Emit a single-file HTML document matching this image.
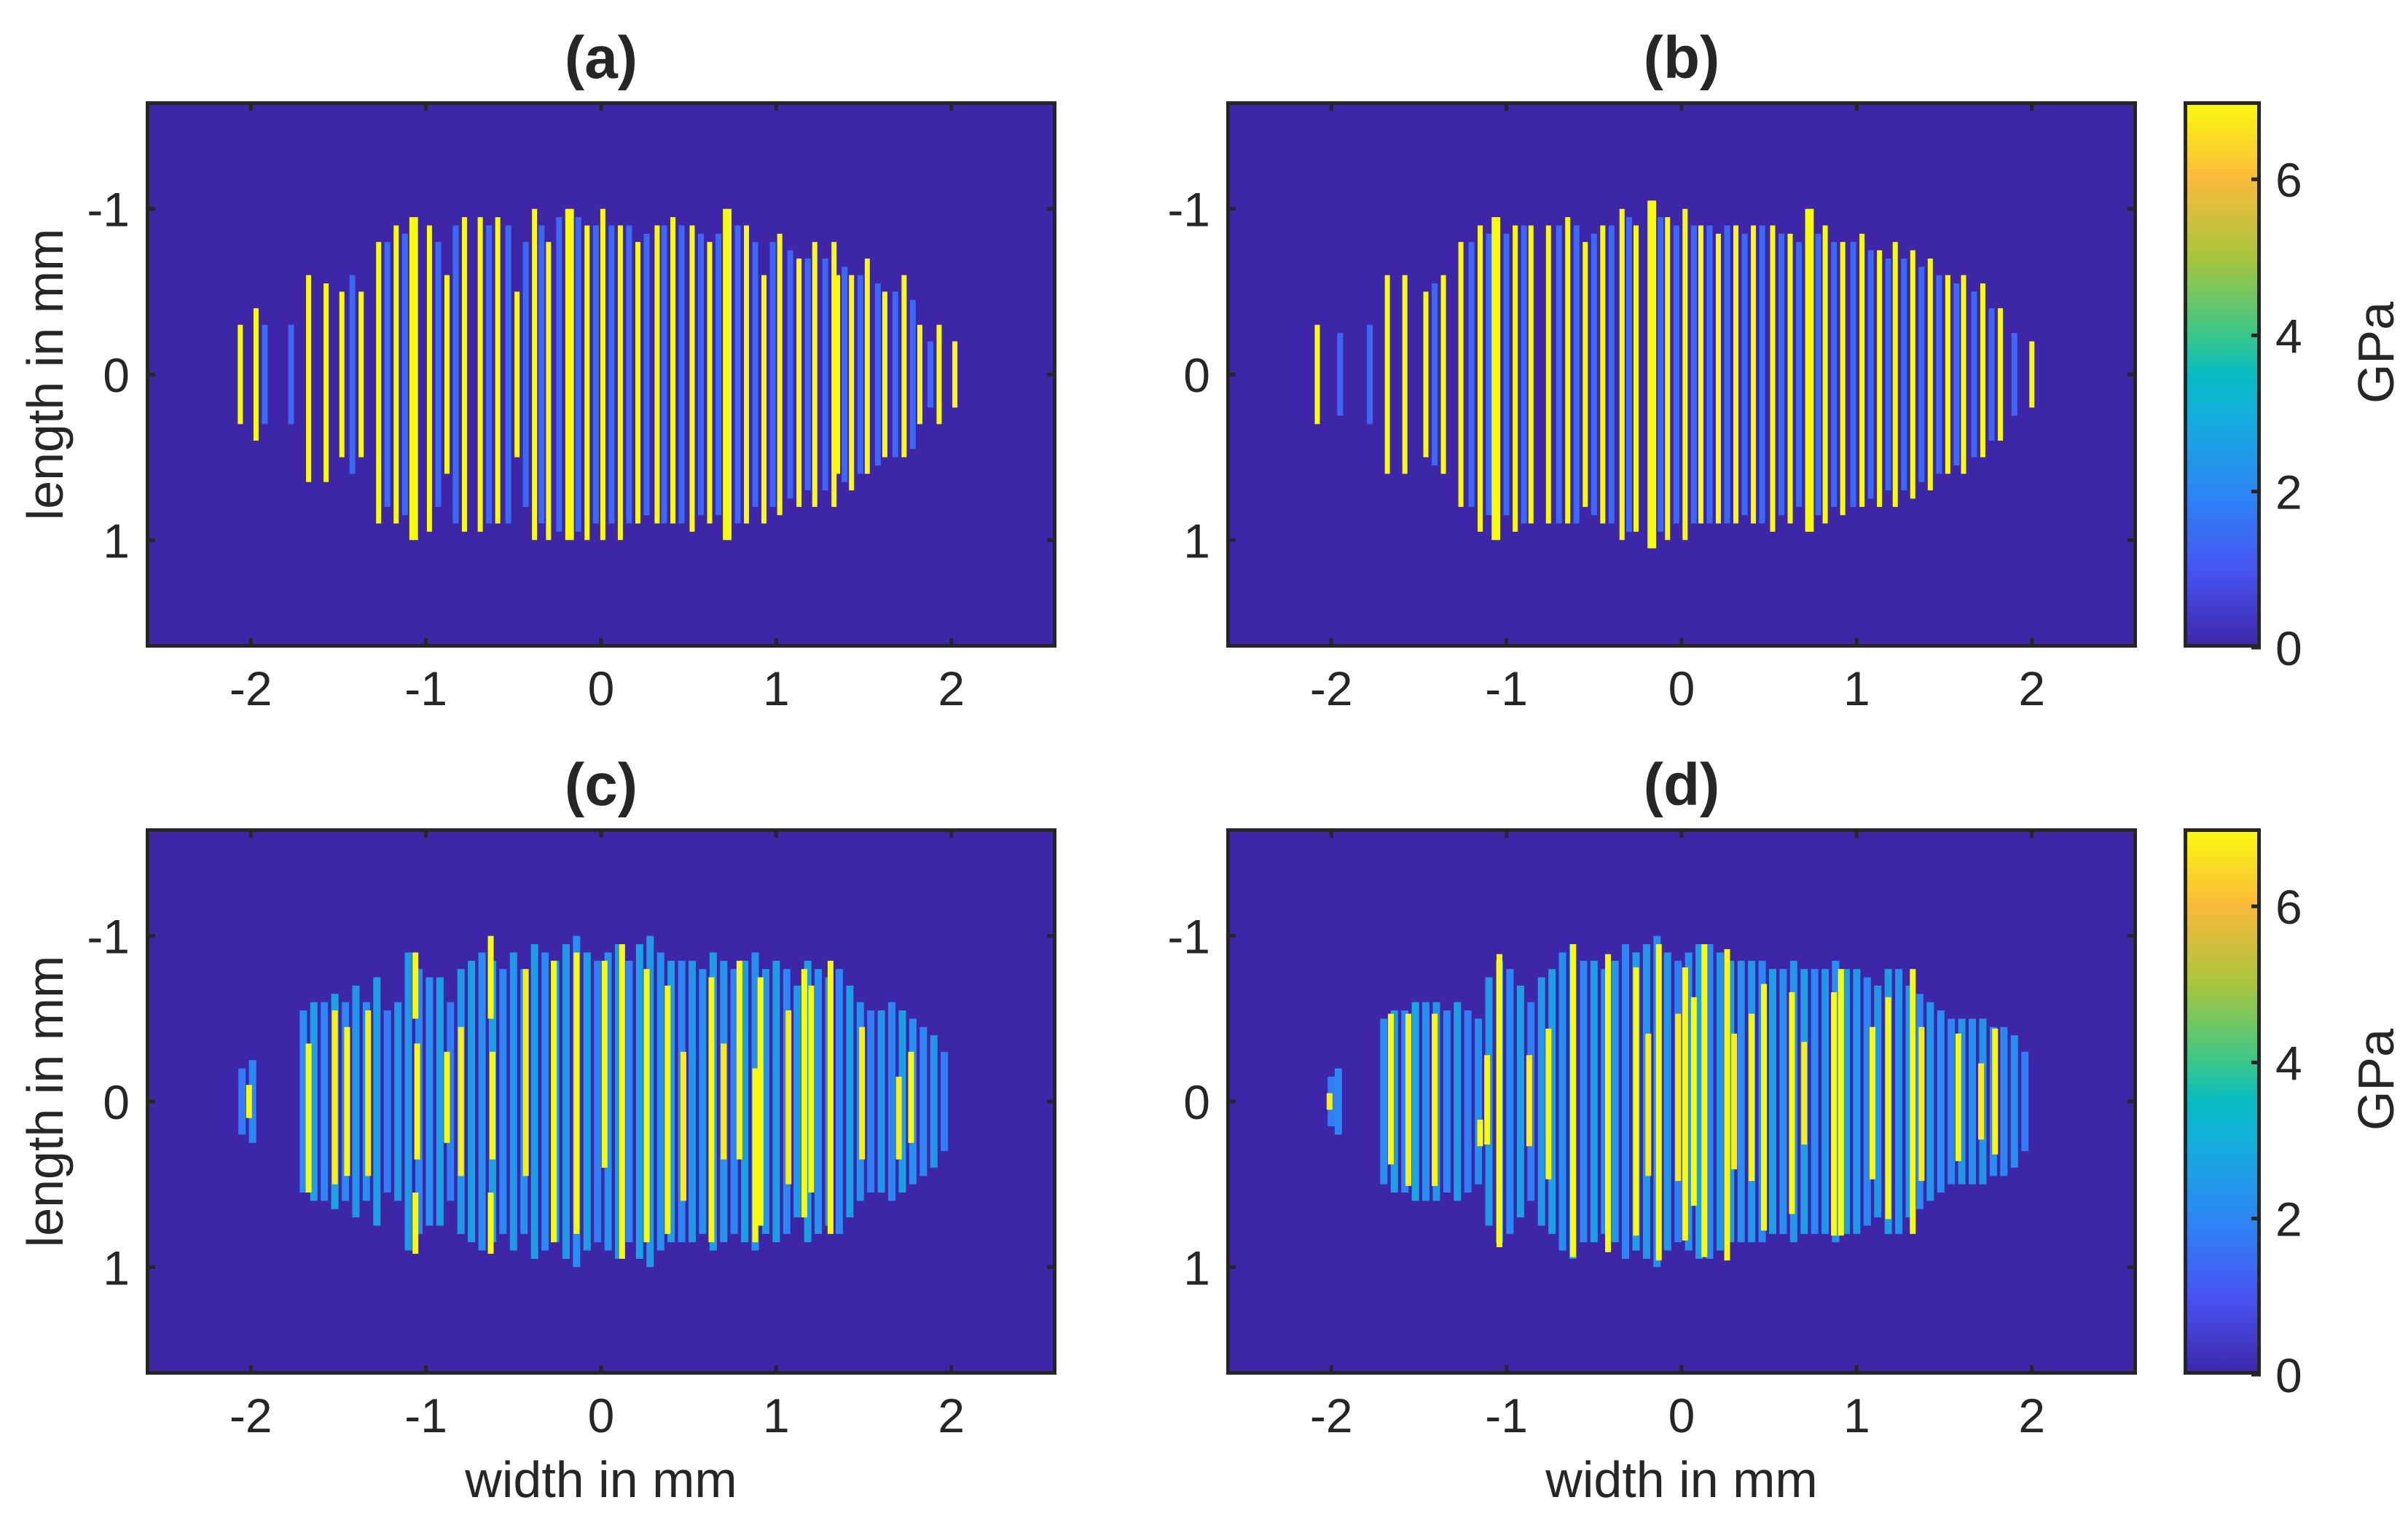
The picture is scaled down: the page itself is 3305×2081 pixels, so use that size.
<!DOCTYPE html>
<html><head><meta charset="utf-8">
<style>
html,body{margin:0;padding:0;background:#fff;}
svg{display:block;font-family:"Liberation Sans",Arial,sans-serif;}
</style></head>
<body>
<svg id="fig" width="3305" height="2081" viewBox="0 0 3305 2081" xmlns="http://www.w3.org/2000/svg">
<defs>
<linearGradient id="parula" x1="0" y1="1" x2="0" y2="0">
<stop offset="0" stop-color="#3e26a8"/><stop offset="0.14" stop-color="#4853f3"/>
<stop offset="0.28" stop-color="#2d85f5"/><stop offset="0.43" stop-color="#13b0db"/>
<stop offset="0.5" stop-color="#06bbc1"/><stop offset="0.57" stop-color="#38c78c"/>
<stop offset="0.71" stop-color="#a5c53e"/><stop offset="0.86" stop-color="#fbba3a"/>
<stop offset="1" stop-color="#f9fb0e"/>
</linearGradient>
</defs>
</svg>
<script>
// ---- data (mm, GPa) ----
const xTicks = [-2,-1,0,1,2];
const yTicks = [-1,0,1];
const cbTicks = [0,2,4,6];
const panelTitles = ["(a)","(b)","(c)","(d)"];

// panel a: yellow stripes
const aX   = [-2.06,-1.97,-1.67,-1.57,-1.48,-1.37,-1.27,-1.17,-1.08,-1.06,-0.98,-0.88,-0.78,-0.69,-0.59,-0.48,-0.38,-0.30,-0.19,-0.17,-0.08,0.01,0.11,0.21,0.32,0.41,0.52,0.62,0.71,0.73,0.83,0.93,1.02,1.13,1.22,1.33,1.35,1.43,1.52,1.62,1.73,1.82,1.93,2.02];
const aTop = [-0.30,-0.40,-0.60,-0.55,-0.50,-0.50,-0.80,-0.90,-0.95,-0.95,-0.90,-0.60,-0.95,-0.95,-0.95,-0.50,-1.00,-0.80,-1.00,-1.00,-0.90,-1.00,-0.90,-0.80,-0.90,-0.95,-0.90,-0.80,-1.00,-1.00,-0.90,-0.60,-0.85,-0.70,-0.80,-0.80,-0.60,-0.60,-0.70,-0.50,-0.60,-0.30,-0.30,-0.20];
const aBot = [0.30,0.40,0.65,0.65,0.50,0.50,0.90,0.90,1.00,1.00,0.95,0.60,0.95,0.95,0.90,0.50,1.00,1.00,1.00,1.00,1.00,1.00,1.00,0.90,0.90,0.90,0.95,0.90,1.00,1.00,0.90,0.90,0.85,0.80,0.80,0.80,0.60,0.70,0.60,0.50,0.50,0.30,0.30,0.20];
// panel a: speckle columns
const aSpX   = [-1.92,-1.77,-1.42,-1.22,-1.12,-0.93,-0.83,-0.64,-0.53,-0.43,-0.34,-0.24,-0.13,-0.03,0.06,0.16,0.26,0.36,0.46,0.57,0.67,0.78,0.88,0.98,1.08,1.18,1.28,1.39,1.48,1.58,1.68,1.78,1.88];
const aSpExt = [0.3,0.3,0.6,0.8,0.85,0.8,0.9,0.9,0.9,0.8,0.9,0.95,0.95,0.9,0.9,0.9,0.85,0.9,0.9,0.85,0.85,0.9,0.8,0.8,0.75,0.7,0.7,0.65,0.6,0.55,0.5,0.45,0.2];

// panel b: yellow stripes
const bX   = [-2.08,-1.68,-1.58,-1.46,-1.36,-1.26,-1.15,-1.07,-1.05,-0.95,-0.86,-0.76,-0.65,-0.55,-0.45,-0.34,-0.26,-0.18,-0.16,-0.08,0.02,0.11,0.21,0.31,0.41,0.52,0.62,0.72,0.74,0.82,0.92,1.03,1.13,1.22,1.32,1.42,1.52,1.61,1.72,1.82,2.00];
const bTop = [-0.3,-0.6,-0.6,-0.5,-0.6,-0.8,-0.9,-0.95,-0.95,-0.9,-0.9,-0.9,-0.95,-0.8,-0.9,-1.0,-0.9,-1.05,-1.05,-0.95,-1.0,-0.9,-0.85,-0.9,-0.9,-0.9,-0.85,-1.0,-1.0,-0.9,-0.8,-0.85,-0.75,-0.8,-0.75,-0.7,-0.6,-0.6,-0.55,-0.4,-0.2];
const bBot = [0.3,0.6,0.6,0.5,0.6,0.8,0.95,1.0,1.0,0.95,0.9,0.9,0.9,0.8,0.9,1.0,0.95,1.05,1.05,1.0,1.0,0.9,0.9,0.9,0.9,0.95,0.9,0.95,0.95,0.9,0.85,0.8,0.8,0.8,0.75,0.7,0.6,0.6,0.5,0.4,0.2];
const bSpX   = [-1.95,-1.78,-1.41,-1.20,-1.10,-1.00,-0.90,-0.70,-0.60,-0.50,-0.40,-0.30,-0.12,-0.03,0.07,0.16,0.26,0.36,0.46,0.57,0.67,0.78,0.87,0.98,1.08,1.18,1.27,1.37,1.47,1.57,1.67,1.77,1.90];
const bSpExt = [0.25,0.3,0.55,0.8,0.85,0.85,0.9,0.9,0.9,0.85,0.9,0.95,0.95,0.9,0.9,0.9,0.9,0.85,0.9,0.85,0.8,0.85,0.8,0.8,0.75,0.7,0.7,0.65,0.6,0.55,0.5,0.4,0.25];

// panel c: mixed band + yellow segments
const cMixX   = [-2.05,-1.99,-1.70,-1.64,-1.58,-1.52,-1.46,-1.40,-1.34,-1.28,-1.22,-1.16,-1.10,-1.04,-0.98,-0.92,-0.86,-0.80,-0.74,-0.68,-0.62,-0.56,-0.50,-0.44,-0.38,-0.32,-0.26,-0.20,-0.14,-0.08,-0.02,0.04,0.10,0.16,0.22,0.28,0.34,0.40,0.46,0.52,0.58,0.64,0.70,0.76,0.82,0.88,0.94,1.00,1.06,1.12,1.18,1.24,1.30,1.36,1.42,1.48,1.54,1.60,1.66,1.72,1.78,1.84,1.90,1.96];
const cMixExt = [0.2,0.25,0.55,0.6,0.6,0.65,0.6,0.7,0.6,0.75,0.55,0.6,0.9,0.8,0.75,0.75,0.6,0.8,0.85,0.9,0.85,0.8,0.9,0.8,0.95,0.9,0.85,0.95,1.0,0.9,0.85,0.9,0.95,0.85,0.95,1.0,0.9,0.85,0.85,0.85,0.8,0.9,0.85,0.8,0.85,0.9,0.8,0.85,0.8,0.7,0.85,0.8,0.75,0.8,0.7,0.6,0.55,0.55,0.6,0.55,0.5,0.45,0.4,0.3];
const cMixVal = [1.8,2.0,2.2,2.6,2.0,2.8,2.0,2.4,2.2,2.6,1.8,2.4,2.4,2.0,2.2,2.6,1.8,2.4,2.6,2.2,2.6,2.0,2.4,2.2,2.6,2.0,2.6,2.4,2.2,2.6,1.8,2.2,2.4,2.0,2.6,2.4,2.2,2.6,2.0,2.4,2.2,2.6,2.4,2.0,2.6,2.2,2.4,2.6,2.0,2.4,2.6,2.2,2.4,2.0,2.6,2.2,1.8,2.4,2.0,2.6,2.2,2.0,2.4,1.8];
const cX   = [-2.01,-1.67,-1.52,-1.45,-1.33,-1.06,-1.05,-1.06,-0.88,-0.80,-0.63,-0.62,-0.63,-0.43,-0.27,-0.14,0.02,0.12,0.26,0.38,0.47,0.63,0.70,0.79,0.88,0.91,1.07,1.16,1.20,1.31,1.49,1.70,1.77];
const cTop = [-0.10,-0.35,-0.55,-0.45,-0.55,-0.90,-0.35,0.55,-0.30,-0.45,-1.00,-0.30,0.55,-0.80,-0.85,-0.90,-0.85,-0.95,-0.80,-0.70,-0.30,-0.75,-0.35,-0.85,-0.20,-0.75,-0.55,-0.80,-0.70,-0.85,-0.45,-0.15,-0.30];
const cBot = [0.10,0.55,0.50,0.45,0.45,-0.50,0.35,0.92,0.25,0.45,-0.50,0.35,0.92,0.45,0.85,0.80,0.40,0.95,0.85,0.80,0.60,0.85,0.35,0.35,0.85,0.75,0.50,0.70,0.55,0.80,0.35,0.35,0.25];
const cVal = [7,7,6.8,7,6.8,7,7,7,7,6.8,7,7,7,6.8,7,7,7,7,7,7,6.8,7,6.8,7,7,7,6.8,7,7,7,6.8,6.8,7];

// panel d
const dMixX   = [-2.00,-1.96,-1.70,-1.64,-1.58,-1.52,-1.46,-1.40,-1.34,-1.28,-1.22,-1.16,-1.10,-1.04,-0.98,-0.92,-0.86,-0.80,-0.74,-0.68,-0.62,-0.56,-0.50,-0.44,-0.38,-0.32,-0.26,-0.20,-0.14,-0.08,-0.02,0.04,0.10,0.16,0.22,0.28,0.34,0.40,0.46,0.52,0.58,0.64,0.70,0.76,0.82,0.88,0.94,1.00,1.06,1.12,1.18,1.24,1.30,1.36,1.42,1.48,1.54,1.60,1.66,1.72,1.78,1.84,1.90,1.96];
const dMixExt = [0.15,0.2,0.5,0.55,0.55,0.6,0.6,0.6,0.55,0.6,0.55,0.5,0.75,0.85,0.8,0.7,0.6,0.75,0.8,0.9,0.95,0.85,0.85,0.8,0.85,0.95,0.9,0.95,1.0,0.9,0.85,0.9,0.95,0.95,0.9,0.85,0.85,0.85,0.85,0.8,0.8,0.85,0.8,0.8,0.8,0.85,0.8,0.8,0.75,0.7,0.8,0.8,0.7,0.65,0.6,0.55,0.5,0.5,0.5,0.5,0.45,0.45,0.4,0.3];
const dMixVal = [1.8,2.0,2.2,2.6,2.0,2.8,2.2,2.4,2.0,2.6,1.8,2.2,2.4,2.2,2.0,2.6,1.8,2.4,2.6,2.2,2.4,2.0,2.6,2.2,2.4,2.0,2.6,2.4,2.2,2.4,1.8,2.2,2.6,2.0,2.4,2.6,2.2,2.4,2.0,2.6,2.2,2.4,2.6,2.0,2.4,2.2,2.6,2.4,2.0,2.4,2.6,2.2,2.4,2.0,2.4,2.2,2.0,2.4,2.2,2.4,2.2,2.0,2.2,1.8];
const dX   = [-2.01,-1.66,-1.56,-1.41,-1.15,-1.11,-1.04,-0.87,-0.76,-0.62,-0.42,-0.26,-0.19,-0.13,-0.02,0.02,0.07,0.13,0.26,0.30,0.40,0.47,0.63,0.70,0.87,0.91,1.09,1.18,1.32,1.37,1.58,1.71,1.79];
const dTop = [-0.05,-0.53,-0.53,-0.53,0.11,-0.28,-0.89,-0.28,-0.44,-0.95,-0.89,-0.81,-0.41,-0.95,-0.53,-0.81,-0.63,-0.95,-0.92,-0.41,-0.53,-0.71,-0.66,-0.36,-0.66,-0.80,-0.45,-0.63,-0.80,-0.45,-0.41,-0.23,-0.44];
const dBot = [0.05,0.38,0.51,0.51,0.27,0.26,0.88,0.27,0.47,0.94,0.91,0.81,0.45,0.96,0.48,0.84,0.63,0.94,0.96,0.41,0.48,0.78,0.68,0.26,0.81,0.81,0.47,0.71,0.80,0.48,0.36,0.23,0.32];
const dVal = [6.8,7,6.8,7,7,7,7,6.8,7,7,7,7,6.8,7,6.8,7,7,7,7,6.8,7,7,7,6.8,7,7,7,7,7,6.8,7,6.8,7];

// ---- layout ----
const NS = "http://www.w3.org/2000/svg";
const svg = document.getElementById('fig');
const panels = [
  {x0:200, y0:139, w:1250, h:750, stripes:[aX,aTop,aBot,null], spk:[aSpX,aSpExt,null,1.4]},
  {x0:1683, y0:139, w:1250, h:750, stripes:[bX,bTop,bBot,null], spk:[bSpX,bSpExt,null,1.4]},
  {x0:200, y0:1137, w:1250, h:750, stripes:[cX,cTop,cBot,cVal], spk:[cMixX,cMixExt,cMixVal,0]},
  {x0:1683, y0:1137, w:1250, h:750, stripes:[dX,dTop,dBot,dVal], spk:[dMixX,dMixExt,dMixVal,0]},
];
const XL=[-2.6,2.6], YL=[-1.65,1.65];
const stops=[[0,[62,38,168]],[0.14,[72,83,243]],[0.28,[45,133,245]],[0.43,[19,176,219]],[0.5,[6,187,193]],[0.57,[56,199,140]],[0.71,[165,197,62]],[0.86,[251,186,58]],[1,[249,251,14]]];
function parula(v){
  let t=Math.max(0,Math.min(1,v/7));
  for(let i=1;i<stops.length;i++){ if(t<=stops[i][0]){const a=stops[i-1],b=stops[i];const f=(t-a[0])/(b[0]-a[0]);
    return 'rgb('+a[1].map((c,k)=>Math.round(c+(b[1][k]-c)*f)).join(',')+')';}}
  return 'rgb(249,251,14)';
}
function el(tag,attrs,parent){const e=document.createElementNS(NS,tag);for(const k in attrs)e.setAttribute(k,attrs[k]);(parent||svg).appendChild(e);return e;}

panels.forEach((p,pi)=>{
  const sx=v=>p.x0+(v-XL[0])/(XL[1]-XL[0])*p.w;
  const sy=v=>p.y0+(v-YL[0])/(YL[1]-YL[0])*p.h;
  const g=el('g',{});
  
  
  const bg=el('rect',{x:p.x0,y:p.y0,width:p.w,height:p.h,fill:'#3e26a8'},g);
  
  
  const [spX,spE,spV,spDefault]=p.spk;
  const spW = spV ? 10 : 8;
  spX.forEach((x,i)=>{
    const v = spV ? spV[i] : spDefault;
    const r=el('rect',{x:sx(x)-spW/2,y:sy(-spE[i]),width:spW,height:sy(spE[i])-sy(-spE[i]),fill:parula(v)},g);
    
    
  });
  const [X,T,B,V]=p.stripes;
  const stW = V ? 8 : 7;
  X.forEach((x,i)=>{
    const v = V ? V[i] : 7;
    const r=el('rect',{x:sx(x)-stW/2,y:sy(T[i]),width:stW,height:sy(B[i])-sy(T[i]),fill:parula(v)},g);
    
    
  });
  xTicks.forEach(t=>{
    const X0=sx(t);
    el('line',{x1:X0,x2:X0,y1:p.y0+p.h,y2:p.y0+p.h-13,stroke:'#262626','stroke-width':5},g);
    el('line',{x1:X0,x2:X0,y1:p.y0,y2:p.y0+13,stroke:'#262626','stroke-width':5},g);
    const tx=el('text',{x:X0,y:p.y0+p.h+79,'font-size':66,'text-anchor':'middle',fill:'#262626'},g);
    tx.textContent=(t<0?'-':'')+Math.abs(t);
    
    
  });
  yTicks.forEach(t=>{
    const Y0=sy(t);
    el('line',{x1:p.x0,x2:p.x0+13,y1:Y0,y2:Y0,stroke:'#262626','stroke-width':5},g);
    el('line',{x1:p.x0+p.w,x2:p.x0+p.w-13,y1:Y0,y2:Y0,stroke:'#262626','stroke-width':5},g);
    const ty=el('text',{x:p.x0-22,y:Y0+24,'font-size':66,'text-anchor':'end',fill:'#262626'},g);
    ty.textContent=(t<0?'-':'')+Math.abs(t);
    
    
  });
  const frame=el('rect',{x:p.x0+2.5,y:p.y0+2.5,width:p.w-5,height:p.h-5,fill:'none',stroke:'#262626','stroke-width':5},g);
  
  
  const tt=el('text',{x:p.x0+p.w/2,y:p.y0-32,'font-size':82,'font-weight':'bold','text-anchor':'middle',fill:'#262626'},g);
  tt.textContent=panelTitles[pi];
  
  
  if(pi%2===0){
    const yl=el('text',{x:0,y:0,'font-size':70,'text-anchor':'middle',fill:'#262626',transform:'translate(86,'+(p.y0+p.h/2)+') rotate(-90)'},g);
    yl.textContent='length in mm';
    
    
  }
  if(pi>=2){
    const xl=el('text',{x:p.x0+p.w/2,y:2055,'font-size':70,'text-anchor':'middle',fill:'#262626'},g);
    xl.textContent='width in mm';
    
    
  }
  if(pi%2===1){
    const cx0=2997,cw=106;
    const cb=el('g',{});
    
    
    el('rect',{x:cx0,y:p.y0,width:cw,height:p.h,fill:'url(#parula)'},cb);
    const cy=v=>p.y0+p.h-(v/7)*p.h;
    cbTicks.forEach(t=>{
      el('line',{x1:cx0+cw,x2:cx0+cw-13,y1:cy(t),y2:cy(t),stroke:'#262626','stroke-width':5},cb);
      const lt=el('text',{x:3123,y:cy(t)+24,'font-size':66,fill:'#262626'},cb);
      lt.textContent=String(t);
      
      
    });
    el('rect',{x:cx0+2.5,y:p.y0+2.5,width:cw-5,height:p.h-5,fill:'none',stroke:'#262626','stroke-width':5},cb);
    const gl=el('text',{x:0,y:0,'font-size':70,'text-anchor':'middle',fill:'#262626',transform:'translate(3285,'+(p.y0+p.h/2-30)+') rotate(-90)'},cb);
    gl.textContent='GPa';
    
    
  }
});
</script>
</body></html>
